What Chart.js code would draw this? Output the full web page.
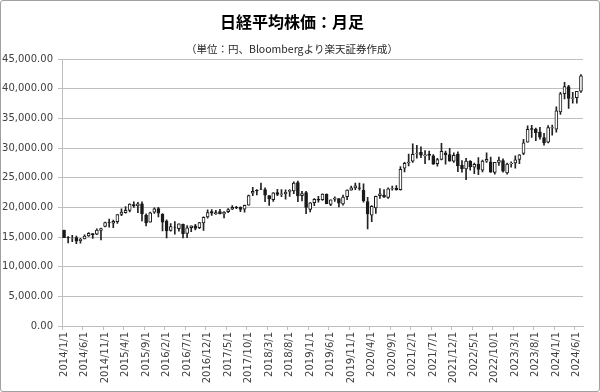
<!DOCTYPE html>
<html>
<head>
<meta charset="utf-8">
<script src="https://cdn.jsdelivr.net/npm/chart.js@4/dist/chart.umd.min.js"></script>
<style>
html,body{margin:0;padding:0;background:#fff;}
#wrap{width:600px;height:392px;box-sizing:border-box;border:1px solid #a0a0a0;border-radius:3px;overflow:hidden;}
canvas{display:block;}
</style>
</head>
<body>
<div id="wrap"><canvas id="c" width="598" height="390"></canvas></div>
<script>
// ---- Data (monthly OHLC, 2014/1 - 2024/7) ----
const startYear = 2014, endYear = 2024, endMonth = 7;
const categories = [];
for (let y = startYear; y <= endYear; y++) {
  for (let m = 1; m <= 12; m++) {
    if (y === endYear && m > endMonth) break;
    categories.push(y + '/' + m + '/1');
  }
}

const opens = [
  16147,14900,14800,14900,14400,14700,15200,15600,15500,16100,16800,17500,
  17325,17600,18800,19100,19500,20500,20300,20600,18700,17500,19200,19800,
  18818,17700,16100,16700,16400,17200,15600,16600,16900,16600,17400,18400,
  19300,18900,19300,18900,19300,19700,20000,20000,19700,20400,22400,22900,
  23100,23000,22000,21300,22500,22200,22300,22700,22800,24200,22000,22500,
  19655,20800,21400,21300,22200,20500,21400,21500,20600,21800,22900,23300,
  23300,22900,21000,18700,19900,22000,22100,21700,23100,23200,23000,26600,
  27500,27800,29100,29300,28700,29000,28700,27400,28100,29200,28900,27800,
  29000,27100,26500,27800,26800,27300,26300,27800,27700,25900,27600,27900,
  25800,27400,27500,28100,29100,31000,33300,33200,32700,31800,31000,33400,
  33200,36100,39200,40400,38400,38500,39600
];
const highs = [
  16164,15094,15312,15164,14800,15376,15759,15600,16374,16533,17520,18030,
  17850,18800,19778,20133,20600,20953,20850,20946,18900,19200,19937,20012,
  18951,17905,17291,17613,17251,17200,16938,16900,17156,17500,18400,19592,
  19615,19500,19668,19300,19800,20318,20200,20100,20400,22100,23382,23000,
  24124,23300,22000,22500,23050,23000,22950,23000,24306,24448,22700,22700,
  20800,21500,21860,22300,22300,21300,21800,21500,22100,22975,23600,24092,
  24116,24000,21700,20300,21900,23178,23000,23300,23600,23700,26890,27600,
  28979,30714,30485,30200,29600,29500,28900,28300,30795,29500,29960,29200,
  29388,27900,28300,27900,27500,28389,28000,29222,28500,27600,28500,28200,
  27500,27700,28700,28900,31500,33770,33850,33400,33500,32500,33800,33900,
  36984,39426,41087,40600,39400,39600,42400
];
const lows = [
  14914,13995,14203,13885,13964,14700,15100,14753,15400,14529,16720,16672,
  16592,17300,18600,19034,19250,19990,19115,17714,16901,17500,19000,18412,
  16017,14865,16000,15471,16000,14864,14900,15900,16200,16400,16111,18200,
  18650,18800,18900,18225,19100,19600,19800,19280,19200,20400,21972,22100,
  23000,20950,20347,21000,22000,21800,21400,21850,22300,20971,21100,18948,
  19241,20300,20900,21200,20700,20300,21000,20100,20400,21300,22900,23000,
  22900,20900,16358,17600,19000,21500,21700,21500,22900,22900,22900,26000,
  27000,27600,28300,28400,27400,28000,27270,26950,28000,27300,27800,27600,
  26044,25960,24681,26300,25700,25520,26000,27600,25900,25600,27100,25950,
  25600,26800,26600,27400,28900,31000,31800,31275,31500,30500,30900,32200,
  32700,35700,38300,36700,37600,37600,39400
];
const closes = [
  14914,14841,14827,14304,14632,15162,15621,15425,16174,16414,17460,17451,
  17674,18797,19207,19520,20563,20236,20585,18890,17388,19083,19747,19034,
  17518,16027,16759,16666,17235,15576,16569,16887,16450,17425,18308,19114,
  19041,19119,18909,19197,19651,20033,19925,19646,20356,22012,22725,22765,
  23098,22068,21454,22468,22202,22305,22554,22865,24120,21920,22351,20015,
  20773,21385,21206,22259,20601,21276,21522,20704,21756,22927,23294,23657,
  23205,21143,18917,20194,21878,22288,21710,23140,23185,22977,26434,27444,
  27663,28966,29179,28813,28860,28792,27284,28090,29453,28893,27822,28792,
  27002,26527,27821,26848,27280,26393,27802,28092,25937,27587,27969,26095,
  27327,27446,28041,28856,30888,33189,33172,32619,31858,30859,33487,33464,
  36287,39166,40369,38406,38488,39583,42200
];

const yMin = 0, yMax = 45000, yStep = 5000;
const labelEvery = 5;
const titleText = '日経平均株価：月足';
const subtitleText = '（単位：円、Bloombergより楽天証券作成）';

// ---- Build datasets ----
const bodies = opens.map((o, i) => [o, closes[i]]);
const wicks = lows.map((l, i) => [l, highs[i]]);
const bodyFill = opens.map((o, i) => closes[i] >= o ? '#ffffff' : '#1a1a1a');

const gridGray = '#bfbfbf';
const textGray = '#404040';

new Chart(document.getElementById('c'), {
  type: 'bar',
  data: {
    labels: categories,
    datasets: [
      {
        label: 'body',
        data: bodies,
        backgroundColor: bodyFill,
        borderColor: '#1a1a1a',
        borderWidth: 1,
        borderSkipped: false,
        barThickness: 3,
        grouped: false,
        order: 0
      },
      {
        label: 'wick',
        data: wicks,
        backgroundColor: '#222222',
        borderWidth: 0,
        barThickness: 1,
        grouped: false,
        order: 1
      }
    ]
  },
  options: {
    responsive: false,
    animation: false,
    devicePixelRatio: 1,
    layout: { padding: { left: 0, right: 16, top: 0, bottom: 0 } },
    plugins: {
      legend: { display: false },
      tooltip: { enabled: false },
      title: {
        display: true,
        text: titleText,
        color: '#000',
        font: { family: '"Noto Sans CJK JP"', size: 16, weight: 'bold', lineHeight: 1.2 },
        padding: { top: 11, bottom: 8 }
      },
      subtitle: {
        display: true,
        text: subtitleText,
        color: '#262626',
        font: { family: '"Noto Sans CJK JP"', size: 10.5, lineHeight: 1.2 },
        padding: { top: 3.7, bottom: 3.7 }
      }
    },
    scales: {
      x: {
        type: 'category',
        offset: true,
        grid: {
          display: true,
          drawOnChartArea: false,
          offset: true,
          tickLength: 4,
          color: (ctx) => (ctx.index % labelEvery === 0 ? gridGray : 'rgba(0,0,0,0)')
        },
        border: { display: true, color: gridGray, width: 1 },
        ticks: {
          autoSkip: false,
          maxRotation: 90,
          minRotation: 90,
          padding: 2,
          color: textGray,
          font: { family: '"DejaVu Sans"', size: 10 },
          callback: function (v, i) { return i % labelEvery === 0 ? categories[i] : ''; }
        },
        afterFit: (s) => { s.height = 65; }
      },
      y: {
        min: yMin,
        max: yMax,
        grid: { color: gridGray, tickLength: 4, lineWidth: 1 },
        border: { display: true, color: gridGray, width: 1 },
        ticks: {
          stepSize: yStep,
          padding: 5,
          color: textGray,
          font: { family: '"DejaVu Sans"', size: 10 },
          callback: (v) => Number(v).toLocaleString('en-US', { minimumFractionDigits: 2, maximumFractionDigits: 2 })
        },
        afterFit: (s) => { s.width = 61; }
      }
    }
  }
});
</script>
</body>
</html>
